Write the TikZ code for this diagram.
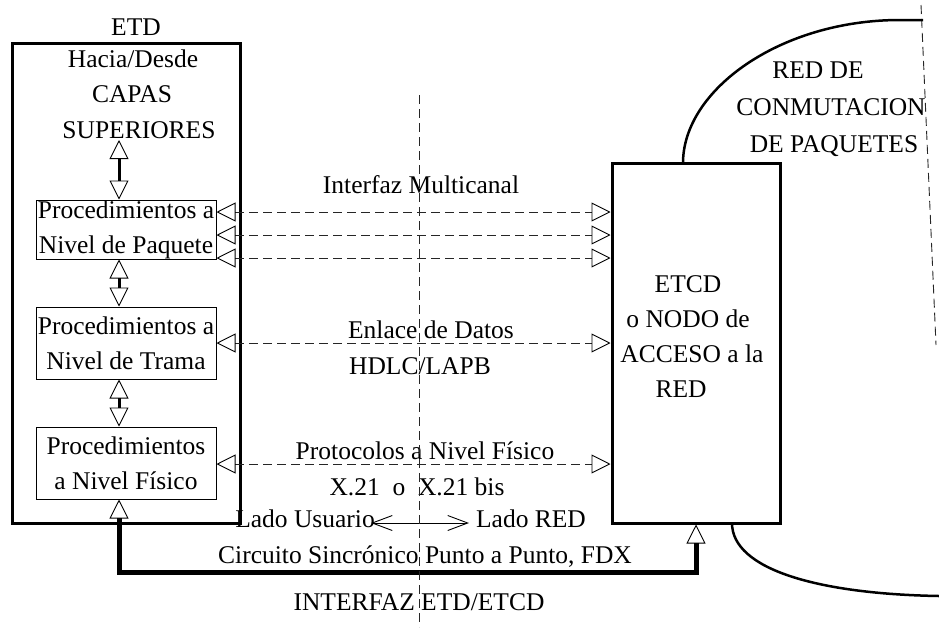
\documentclass[tikz,border=0pt]{standalone}
\usepackage{fontspec}
\setmainfont{Liberation Serif}
\usetikzlibrary{arrows.meta}
\tikzset{
  txt/.style={anchor=base, inner sep=0pt, font=\fontsize{25.5}{35}\selectfont},
  thickbox/.style={draw, line width=3pt, inner sep=0pt},
  procbox/.style={draw, line width=1pt, inner sep=0pt, minimum width=180pt, minimum height=59pt, align=center, font=\fontsize{25.5}{35}\selectfont},
  opentri/.tip={Triangle[color=black, open, length=19pt, width=19pt, line width=0.9pt]},
  layerlink/.style={line width=3pt, opentri-opentri},
  dashlink/.style={line width=0.9pt, black!85, dash pattern=on 9pt off 5pt, opentri-opentri},
  fdxlink/.style={line width=5pt, opentri-opentri},
  netcurve/.style={line width=2.5pt},
  guide/.style={line width=0.9pt, black!85, dash pattern=on 9pt off 5pt},
  sidearrow/.style={line width=0.9pt, {Straight Barb[length=20pt,width=15pt]}-{Straight Barb[length=20pt,width=15pt]}}
}
\begin{document}
\begin{tikzpicture}[x=1pt,y=-1pt]
\useasboundingbox (0,0) rectangle (939,627);

% boxes
\node[thickbox, minimum width=228pt, minimum height=480pt] (etd) at (126,283) {};
\node[thickbox, minimum width=168pt, minimum height=360pt] (etcd) at (696,343) {};
\node[procbox] (p1) at (126,229.5) {Procedimientos a\\Nivel de Paquete};
\node[procbox, minimum height=72pt] (p2) at (126,343) {Procedimientos a\\Nivel de Trama};
\node[procbox, minimum height=72pt] (p3) at (126,463) {Procedimientos\\a Nivel Físico};

% texts
\node[txt] (tetd) at (136,35) {ETD};
\node[txt] (thacia) at (133,67) {Hacia/Desde};
\node[txt] (tcapas) at (132,102) {CAPAS};
\node[txt] (tsup) at (139,138) {SUPERIORES};
\node[txt] (tmulti) at (421,193) {Interfaz Multicanal};
\node[txt] (tenl) at (431,338) {Enlace de Datos};
\node[txt] (thdlc) at (420,374) {HDLC/LAPB};
\node[txt] (tprot) at (425,459) {Protocolos a Nivel Físico};
\node[txt] (tx21) at (417,495) {X.21\ \ o\ \ X.21 bis};
\node[txt] (tusu) at (305,527) {Lado Usuario};
\node[txt] (tlred) at (531,527) {Lado RED};
\node[txt] (tcirc) at (425,563) {Circuito Sincrónico Punto a Punto, FDX};
\node[txt] (tint) at (419,610) {INTERFAZ ETD/ETCD};
\node[txt] (tred1) at (818,78) {RED DE};
\node[txt] (tred2) at (831,115) {CONMUTACION};
\node[txt] (tred3) at (834,152) {DE PAQUETES};
\node[txt] (tetcd1) at (688,292) {ETCD};
\node[txt] (tetcd2) at (688,327) {o NODO de};
\node[txt] (tetcd3) at (692,362) {ACCESO a la};
\node[txt] (tetcd4) at (681,397) {RED};

% helper coordinates
\coordinate (ax) at (119,0);
\coordinate (supb) at (119,140);
\coordinate (bot) at (119,572);
\coordinate (y1) at (0,212);
\coordinate (y2) at (0,235);
\coordinate (y3) at (0,258);
\coordinate (y4) at (0,343);
\coordinate (y5) at (0,464);
\coordinate (lu) at (371,523);
\coordinate (lr) at (469,523);
\coordinate (vt) at (419,95);
\coordinate (vb) at (419,627);
\coordinate (rt) at (921,5);
\coordinate (rb) at (936,345);
\coordinate (ctop) at (683,163);
\coordinate (ctopend) at (900,20);
\coordinate (ctopedge) at (923,20);
\coordinate (cbot) at (732,523);
\coordinate (cbotend) at (939,596);

% layer links
\draw[layerlink] (supb) -- (p1.north -| ax);
\draw[layerlink] (p1.south -| ax) -- (p2.north -| ax);
\draw[layerlink] (p2.south -| ax) -- (p3.north -| ax);

% dashed links
\draw[dashlink] (p1.east |- y1) -- (etcd.west |- y1);
\draw[dashlink] (p1.east |- y2) -- (etcd.west |- y2);
\draw[dashlink] (p1.east |- y3) -- (etcd.west |- y3);
\draw[dashlink] (p2.east |- y4) -- (etcd.west |- y4);
\draw[dashlink] (p3.east |- y5) -- (etcd.west |- y5);

% physical circuit
\draw[fdxlink] (p3.south -| ax) -- (bot) -| (etcd.south);

% side arrow
\draw[sidearrow] (lu) -- (lr);

% guide lines
\draw[guide] (vt) -- (vb);
\draw[guide] (rt) -- (rb);

% network cloud
\draw[netcurve] (ctop) .. controls (683,90) and (780,20) .. (ctopend) -- (ctopedge);
\draw[netcurve] (cbot) .. controls (732,570) and (820,594) .. (cbotend);
\end{tikzpicture}
\end{document}
